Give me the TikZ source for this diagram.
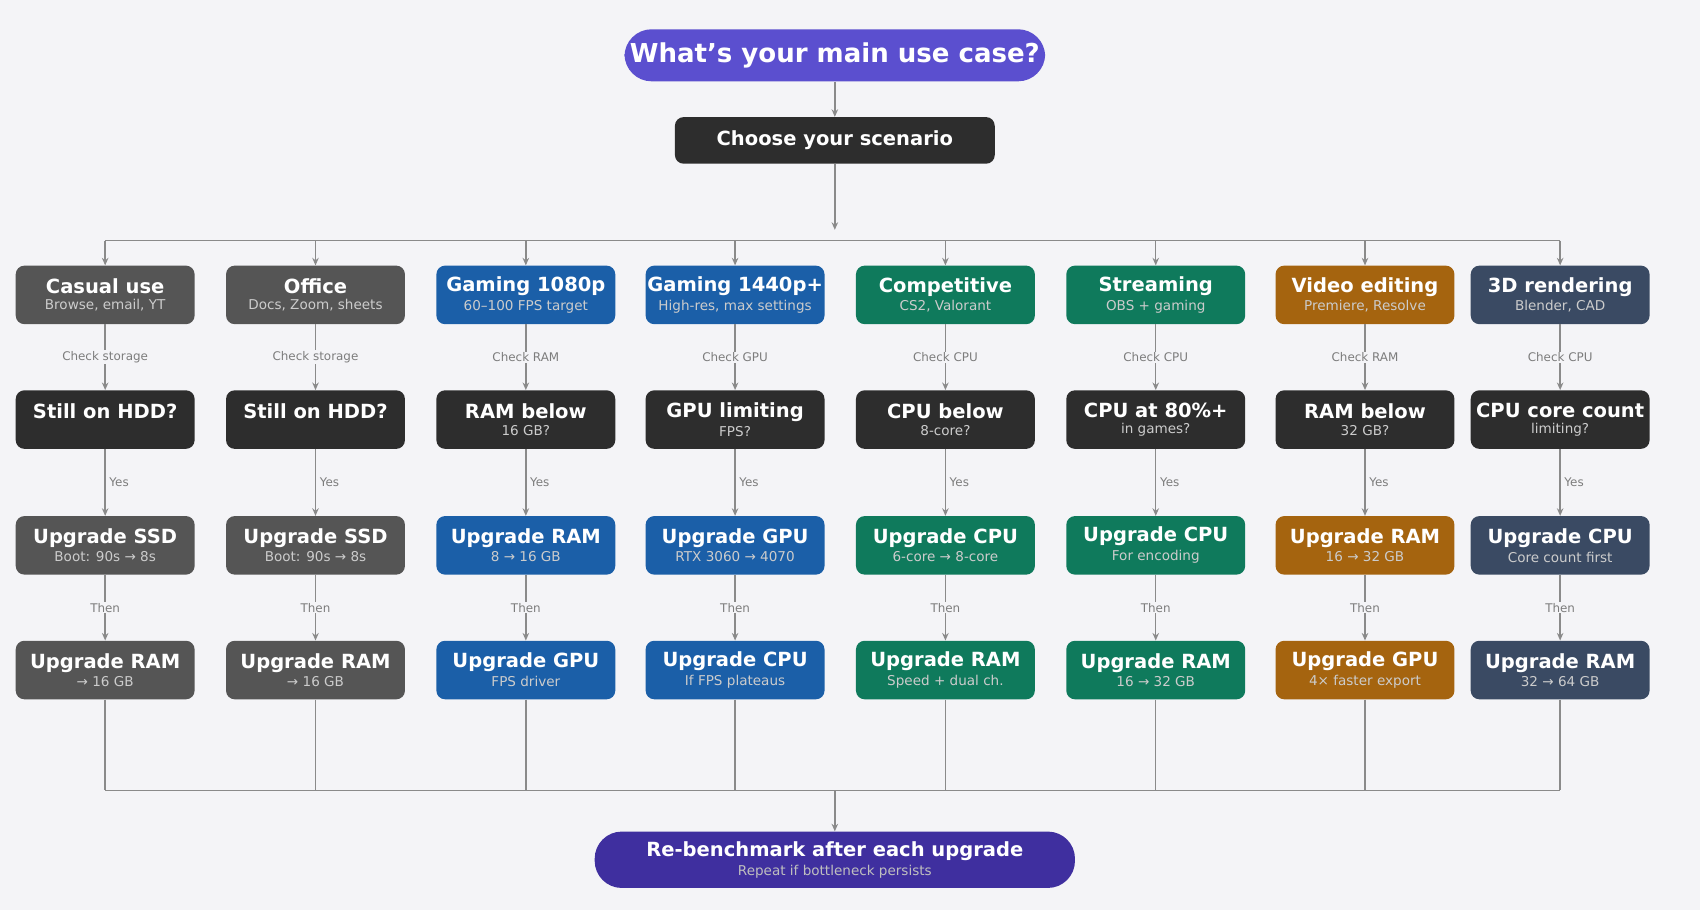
\documentclass[tikz,border=0pt]{standalone}
\usepackage{fontspec}
\setmainfont{DejaVu Sans}
\usetikzlibrary{arrows.meta,positioning}
\definecolor{bgc}{HTML}{F4F4F7}
\definecolor{titlec}{HTML}{5B4FCF}
\definecolor{darkc}{HTML}{2D2D2D}
\definecolor{grayc}{HTML}{555555}
\definecolor{bluec}{HTML}{1B5FA8}
\definecolor{greenc}{HTML}{0F7A5C}
\definecolor{orangec}{HTML}{A5640F}
\definecolor{slatec}{HTML}{3A4A63}
\definecolor{finalc}{HTML}{3F2F9F}
\definecolor{linec}{HTML}{8A8A8A}
\newcommand{\boxtext}[2]{\if\relax\detokenize{#2}\relax
  {\fontsize{18}{22}\selectfont\bfseries #1}\else
  {\fontsize{18}{19}\selectfont\bfseries #1}\\[3pt]{\fontsize{12.5}{13}\selectfont\color{white!80!black}#2}\fi}
\begin{document}
\begin{tikzpicture}[
    x=1pt, y=-1pt,
    >={Stealth[length=7pt,width=6pt]},
    block/.style={
        rectangle, rounded corners=8pt, align=center, text=white,
        minimum width=165pt, minimum height=54pt, inner sep=1pt
    },
    pill/.style={
        rectangle, rounded corners=25pt, align=center, text=white,
        inner sep=2pt
    },
    arrow/.style={->, draw=linec, line width=1.3pt},
    link/.style={draw=linec, line width=1.3pt},
    elabel/.style={font=\fontsize{11}{12}\selectfont, text=linec!90!black},
]
  \fill[bgc] (0,0) rectangle (1568,839);

  %--- top ---
  \node (usecase) [pill, fill=titlec, minimum width=388pt, minimum height=48pt]
      at (770,51) {\fontsize{24}{28}\selectfont\bfseries What{\char"27}s your main use case?};
  \node (scenario) [block, fill=darkc, minimum width=295pt, minimum height=43pt]
      at (770,129.5) {\fontsize{18}{22}\selectfont\bfseries Choose your scenario};
  \draw[arrow] (usecase) -- (scenario);
  \coordinate (split) at (770,212);
  \draw[arrow] (scenario) -- (split);

  %--- bottom ---
  \node (rebench) [pill, fill=finalc, minimum width=443pt, minimum height=52pt]
      at (770,793) {{\fontsize{18}{19}\selectfont\bfseries Re-benchmark after each upgrade}\\[3pt]
      {\fontsize{12.5}{13}\selectfont\color{white!75!black}Repeat if bottleneck persists}};
  \coordinate (merge) at (770,729);
  \draw[arrow] (merge) -- (rebench);

  %--- columns ---
  \foreach \i/\x/\c/\ta/\sa/\chk/\tb/\sb/\tc/\sc/\td/\sd in {
      1/97/grayc/{Casual use}/{Browse, email, YT}/{Check storage}/{Still on HDD?}/{}/{Upgrade SSD}/{Boot: 90s → 8s}/{Upgrade RAM}/{→ 16 GB},
      2/291/grayc/{Office}/{Docs, Zoom, sheets}/{Check storage}/{Still on HDD?}/{}/{Upgrade SSD}/{Boot: 90s → 8s}/{Upgrade RAM}/{→ 16 GB},
      3/485/bluec/{Gaming 1080p}/{60–100 FPS target}/{Check RAM}/{RAM below}/{16 GB?}/{Upgrade RAM}/{8 → 16 GB}/{Upgrade GPU}/{FPS driver},
      4/678/bluec/{Gaming 1440p+}/{High-res, max settings}/{Check GPU}/{GPU limiting}/{FPS?}/{Upgrade GPU}/{RTX 3060 → 4070}/{Upgrade CPU}/{If FPS plateaus},
      5/872/greenc/{Competitive}/{CS2, Valorant}/{Check CPU}/{CPU below}/{8-core?}/{Upgrade CPU}/{6-core → 8-core}/{Upgrade RAM}/{Speed + dual ch.},
      6/1066/greenc/{Streaming}/{OBS + gaming}/{Check CPU}/{CPU at 80\%+}/{in games?}/{Upgrade CPU}/{For encoding}/{Upgrade RAM}/{16 → 32 GB},
      7/1259/orangec/{Video editing}/{Premiere, Resolve}/{Check RAM}/{RAM below}/{32 GB?}/{Upgrade RAM}/{16 → 32 GB}/{Upgrade GPU}/{4× faster export},
      8/1439/slatec/{3D rendering}/{Blender, CAD}/{Check CPU}/{CPU core count}/{limiting?}/{Upgrade CPU}/{Core count first}/{Upgrade RAM}/{32 → 64 GB}}{
    \node (case\i) [block, fill=\c] at (\x,272) {\boxtext{\ta}{\sa}};
    \node (quest\i) [block, fill=darkc] at (\x,387) {\boxtext{\tb}{\sb}};
    \node (first\i) [block, fill=\c] at (\x,503) {\boxtext{\tc}{\sc}};
    \node (then\i) [block, fill=\c] at (\x,618) {\boxtext{\td}{\sd}};
    \coordinate (top\i) at (\x,222);
    \coordinate (bot\i) at (\x,729);
    \draw[arrow] (top\i) -- (case\i);
    \draw[arrow] (case\i) -- node[elabel, fill=bgc, inner sep=1pt] {\chk} (quest\i);
    \draw[arrow] (quest\i) -- node[elabel, right=0pt] {Yes} (first\i);
    \draw[arrow] (first\i) -- node[elabel, fill=bgc, inner sep=1pt] {Then} (then\i);
    \draw[link] (then\i) -- (bot\i);
  }
  \draw[link] (top1) -- (top8);
  \draw[link] (bot1) -- (bot8);
\end{tikzpicture}
\end{document}
